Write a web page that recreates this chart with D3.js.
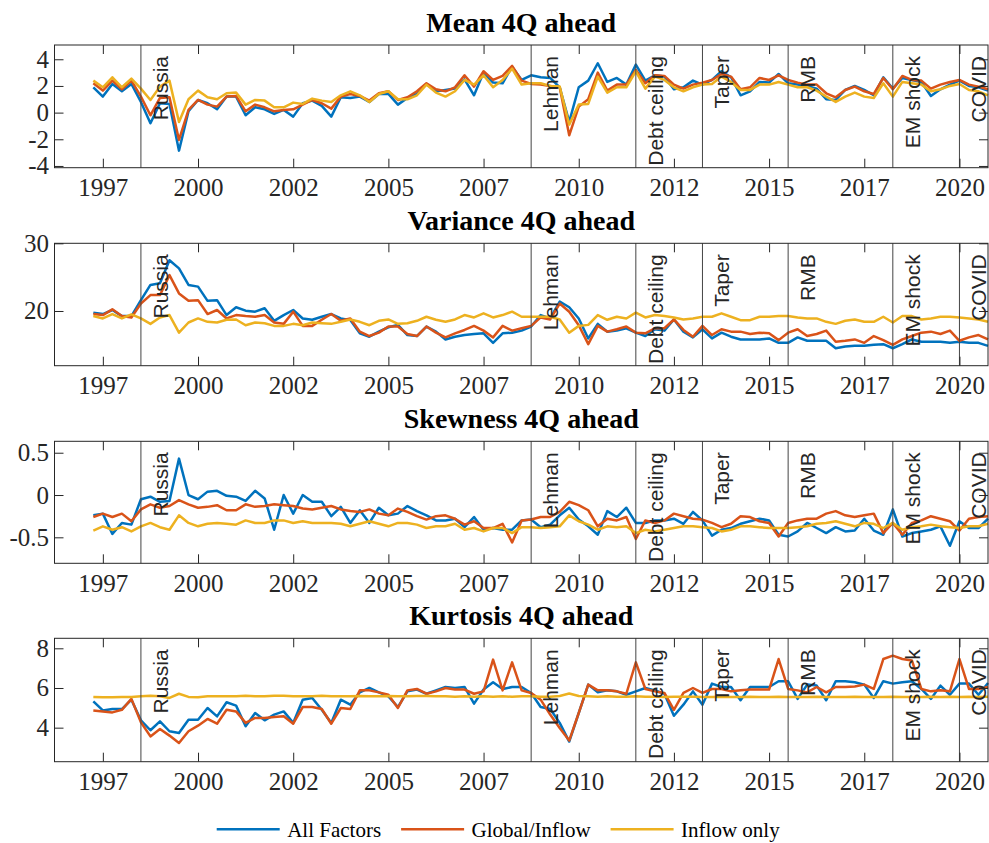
<!DOCTYPE html>
<html>
<head>
<meta charset="utf-8">
<script src="https://cdn.jsdelivr.net/npm/d3@7"></script>
<style>
  body { margin: 0; background: #fff; }
  svg { display: block; }
  .tick text { font-family: "Liberation Serif", "Times New Roman", serif; font-size: 25px; fill: #262626; }
  .tick line { stroke: #262626; }
  .title { font-family: "Liberation Serif", "Times New Roman", serif; font-size: 28px; font-weight: bold; fill: #000; }
  .event { font-family: "Liberation Sans", Arial, sans-serif; font-size: 21px; fill: #262626; }
  .legend { font-family: "Liberation Serif", "Times New Roman", serif; font-size: 21px; fill: #000; }
</style>
</head>
<body>
<svg id="chart" width="989" height="843"></svg>
<script>
// quarterly, 1997Q2 .. 2020Q4
const startYear = 1997.25;
const seriesNames = ['All Factors', 'Global/Inflow', 'Inflow only'];
const colors = ['#0072BD', '#D95319', '#EDB120'];

const events = ['Russia', 'Lehman', 'Debt ceiling', 'Taper', 'RMB', 'EM shock', 'COVID'];
const eventDates = [1998.5, 2008.75, 2011.5, 2013.25, 2015.5, 2018.25, 2020.0];

const xTicks = [1997.5, 2000, 2002.5, 2005, 2007.5, 2010, 2012.5, 2015, 2017.5, 2020];

const meanAll = [1.9, 1.2, 2.15, 1.6, 2.15, 0.8, -0.8, 0.7, 0.65, -2.85, 0.1, 0.95, 0.7, 0.25, 1.2, 1.2, -0.2, 0.4, 0.25, -0.1, 0.2, -0.3, 0.7, 0.9, 0.5,
  -0.3, 1.15, 1.1, 1.2, 0.8, 1.4, 1.4, 0.6, 1.1, 1.4, 2.15, 1.6, 1.7, 1.8, 2.5, 1.3, 3.0, 2.25, 2.2, 3.45, 2.45, 2.8, 2.65, 2.6, 1.9, -0.7, 1.9, 2.4, 3.7, 2.3, 2.6, 2.1, 3.6, 2.4, 2.8,
  2.7, 1.75, 1.9, 2.4, 2.1, 2.45, 3.1, 2.65, 1.3, 1.6, 2.3, 2.25, 2.9, 2.2, 2.1, 2.0, 1.8, 1.0, 0.95, 1.7, 2.0, 1.7, 1.3, 2.65, 1.8, 2.6, 2.45, 2.3, 1.25, 1.75, 2.1, 2.4, 2.0, 1.9, 1.65];
const meanGlobal = [2.2, 1.65, 2.4, 1.75, 2.4, 1.2, -0.2, 1.1, 1.15, -2.05, 0.2, 0.95, 0.6, 0.45, 1.2, 1.25, 0.1, 0.6, 0.4, 0.1, 0.2, 0.25, 0.6, 0.95, 0.7,
  0.3, 1.2, 1.4, 1.25, 0.9, 1.45, 1.6, 0.95, 1.15, 1.6, 2.2, 1.75, 1.6, 1.9, 2.8, 1.95, 3.1, 2.45, 2.75, 3.5, 2.4, 2.15, 2.1, 2.0, 1.9, -1.7, 0.45, 1.0, 3.0, 1.65, 2.1, 2.1, 3.2, 2.2, 2.8,
  2.75, 2.1, 1.8, 2.1, 2.25, 2.45, 2.9, 2.7, 1.75, 1.9, 2.6, 2.45, 2.8, 2.45, 2.25, 2.1, 2.1, 1.45, 1.15, 1.7, 1.95, 1.6, 1.4, 2.6, 1.75, 2.75, 2.45, 2.4, 1.8, 2.1, 2.3, 2.45, 2.1, 1.95, 1.75];
const meanInflow = [2.4, 1.9, 2.65, 1.9, 2.55, 1.8, 0.95, 1.95, 2.4, -0.7, 1.0, 1.65, 1.15, 1.0, 1.45, 1.5, 0.6, 0.95, 0.9, 0.4, 0.4, 0.75, 0.65, 1.05, 0.9,
  0.8, 1.3, 1.6, 1.3, 0.8, 1.4, 1.6, 1.0, 1.0, 1.3, 2.1, 1.5, 1.2, 1.6, 2.45, 2.1, 2.8, 1.9, 2.45, 3.3, 2.1, 2.2, 2.2, 2.0, 1.95, -0.9, 0.6, 0.65, 2.7, 1.5, 1.9, 1.9, 3.1, 1.8, 2.7,
  2.45, 1.9, 1.6, 1.9, 2.1, 2.15, 2.7, 2.3, 1.7, 1.7, 2.1, 2.1, 2.3, 2.1, 1.9, 1.9, 1.65, 1.2, 0.8, 1.2, 1.5, 1.2, 1.1, 2.2, 1.2, 2.3, 2.2, 2.1, 1.6, 1.75, 2.0, 2.15, 1.7, 1.6, 1.3];

const varAll = [19.75, 19.55, 20.15, 19.25, 19.25, 21.6, 23.85, 24.1, 27.5, 26.3, 23.85, 23.6, 21.5, 21.6, 19.4, 20.55, 20.05, 19.9, 20.4, 18.55, 19.4, 20.15, 18.9, 18.7, 19.15,
  19.55, 18.9, 18.65, 16.7, 16.2, 16.95, 17.6, 17.95, 16.45, 16.3, 17.7, 16.95, 15.8, 16.2, 16.45, 16.6, 16.7, 15.3, 16.7, 16.8, 17.1, 17.7, 19.4, 18.9, 21.4, 20.55, 18.9, 15.95, 18.1, 16.95, 17.1, 17.45, 16.8, 16.3, 17.3,
  17.1, 18.75, 16.95, 16.1, 17.3, 15.95, 16.8, 16.2, 15.8, 15.8, 15.8, 15.95, 15.3, 15.3, 16.1, 15.6, 15.6, 15.6, 14.5, 14.75, 14.85, 14.85, 15.0, 15.1, 14.5, 15.1, 15.8, 15.45, 15.45, 15.45, 15.3, 15.45, 15.3, 15.3, 14.85];
const varGlobal = [19.55, 19.4, 20.25, 19.25, 19.05, 21.1, 22.35, 22.35, 25.3, 22.6, 21.5, 21.6, 19.55, 20.15, 18.9, 19.4, 19.25, 19.15, 19.4, 18.3, 18.1, 19.9, 17.8, 17.8, 18.7,
  19.55, 18.55, 18.9, 16.95, 16.3, 16.8, 17.7, 17.7, 16.6, 16.3, 17.7, 16.8, 16.1, 16.7, 17.2, 17.8, 17.1, 16.1, 17.8, 17.1, 17.45, 17.8, 19.05, 18.75, 21.1, 19.9, 17.9, 15.1, 17.8, 16.95, 17.3, 17.7, 16.8, 16.7, 17.45,
  17.45, 18.75, 17.2, 16.2, 17.8, 16.45, 17.3, 16.95, 16.95, 16.6, 16.8, 16.7, 15.7, 16.8, 17.3, 16.3, 16.6, 17.1, 15.45, 15.6, 15.8, 15.3, 16.3, 15.7, 15.0, 15.8, 16.3, 16.8, 16.95, 16.6, 17.1, 15.6, 16.1, 16.45, 15.8];
const varInflow = [19.25, 18.9, 19.55, 18.9, 19.5, 18.9, 18.1, 19.05, 19.4, 16.8, 18.3, 18.9, 18.4, 18.3, 18.7, 18.75, 17.9, 18.3, 18.2, 17.8, 17.8, 18.1, 17.9, 18.3, 18.2,
  18.1, 18.4, 18.75, 18.4, 17.9, 18.55, 18.75, 18.1, 18.2, 18.55, 19.15, 18.7, 18.4, 18.75, 19.4, 19.05, 19.65, 19.05, 19.4, 19.9, 19.15, 19.15, 19.15, 19.15, 18.75, 16.8, 17.8, 17.95, 19.4, 18.7, 19.15, 18.9, 19.75, 19.05, 19.4,
  19.25, 19.05, 18.75, 18.9, 19.15, 19.15, 19.65, 19.15, 18.65, 18.65, 19.15, 19.15, 19.25, 19.25, 19.05, 18.9, 18.9, 18.4, 18.1, 18.55, 18.75, 18.4, 18.4, 19.15, 18.3, 19.25, 19.25, 18.75, 18.9, 19.15, 19.15, 19.05, 18.9, 18.75, 18.4];

const skewAll = [-0.24, -0.22, -0.46, -0.33, -0.35, -0.05, -0.02, -0.08, -0.07, 0.43, 0.0, -0.05, 0.04, 0.05, -0.01, -0.02, -0.07, 0.05, -0.04, -0.41, 0.0, -0.22, 0.0, -0.08, -0.08,
  -0.25, -0.14, -0.33, -0.18, -0.33, -0.15, -0.24, -0.22, -0.13, -0.19, -0.24, -0.30, -0.30, -0.28, -0.38, -0.26, -0.41, -0.39, -0.41, -0.41, -0.30, -0.29, -0.38, -0.35, -0.24, -0.15, -0.29, -0.37, -0.47, -0.19, -0.26, -0.15, -0.33, -0.33, -0.30,
  -0.30, -0.28, -0.34, -0.20, -0.30, -0.48, -0.41, -0.39, -0.34, -0.31, -0.28, -0.30, -0.47, -0.49, -0.43, -0.33, -0.39, -0.45, -0.38, -0.43, -0.42, -0.28, -0.42, -0.47, -0.17, -0.49, -0.45, -0.43, -0.41, -0.37, -0.60, -0.31, -0.39, -0.39, -0.28];
const skewGlobal = [-0.26, -0.22, -0.26, -0.22, -0.31, -0.17, -0.11, -0.15, -0.13, -0.06, -0.11, -0.15, -0.14, -0.12, -0.18, -0.18, -0.11, -0.14, -0.13, -0.11, -0.12, -0.13, -0.16, -0.17, -0.15,
  -0.13, -0.17, -0.19, -0.20, -0.17, -0.22, -0.24, -0.16, -0.20, -0.25, -0.29, -0.25, -0.24, -0.28, -0.35, -0.31, -0.39, -0.39, -0.34, -0.56, -0.30, -0.29, -0.26, -0.26, -0.20, -0.08, -0.12, -0.18, -0.37, -0.28, -0.30, -0.26, -0.52, -0.30, -0.33,
  -0.30, -0.22, -0.25, -0.28, -0.29, -0.33, -0.38, -0.34, -0.25, -0.26, -0.31, -0.33, -0.49, -0.33, -0.30, -0.28, -0.28, -0.22, -0.19, -0.24, -0.26, -0.24, -0.22, -0.45, -0.33, -0.47, -0.33, -0.30, -0.25, -0.28, -0.31, -0.42, -0.28, -0.26, -0.25];
const skewInflow = [-0.42, -0.37, -0.41, -0.38, -0.43, -0.37, -0.33, -0.38, -0.41, -0.24, -0.33, -0.37, -0.34, -0.33, -0.34, -0.35, -0.30, -0.33, -0.33, -0.30, -0.30, -0.33, -0.31, -0.33, -0.33,
  -0.33, -0.34, -0.37, -0.34, -0.31, -0.34, -0.37, -0.33, -0.33, -0.35, -0.39, -0.37, -0.37, -0.34, -0.41, -0.39, -0.43, -0.39, -0.39, -0.45, -0.38, -0.38, -0.39, -0.38, -0.37, -0.24, -0.31, -0.35, -0.41, -0.37, -0.38, -0.37, -0.45, -0.41, -0.43,
  -0.41, -0.39, -0.37, -0.37, -0.38, -0.39, -0.43, -0.41, -0.37, -0.37, -0.38, -0.39, -0.39, -0.39, -0.38, -0.37, -0.34, -0.33, -0.31, -0.34, -0.37, -0.33, -0.34, -0.39, -0.33, -0.41, -0.38, -0.37, -0.35, -0.37, -0.38, -0.39, -0.37, -0.37, -0.34];

const kurtAll = [5.33, 4.87, 4.94, 4.94, 5.41, 4.37, 3.87, 4.32, 3.82, 3.73, 4.4, 4.4, 4.99, 4.57, 5.28, 5.11, 4.07, 4.74, 4.37, 4.66, 4.82, 4.24, 5.41, 5.5, 4.9,
  4.24, 5.41, 5.16, 5.78, 6.0, 5.78, 5.58, 5.04, 5.83, 5.92, 5.71, 5.88, 6.05, 6.0, 6.05, 5.21, 5.92, 6.29, 5.95, 6.05, 6.05, 5.75, 5.04, 4.94, 4.24, 3.3, 4.74, 6.17, 5.78, 5.88, 5.83, 5.66, 5.83, 6.0, 5.88,
  5.71, 4.6, 5.16, 5.83, 5.16, 6.22, 6.05, 6.05, 5.38, 6.05, 6.05, 6.05, 6.34, 6.34, 5.45, 6.17, 6.12, 5.38, 6.34, 6.34, 6.29, 6.17, 5.5, 6.34, 6.22, 6.29, 6.34, 5.95, 5.45, 6.12, 5.66, 6.22, 6.22, 5.66, 6.25];
const kurtGlobal = [4.87, 4.82, 4.77, 4.9, 5.45, 4.27, 3.56, 3.93, 3.6, 3.23, 3.82, 4.1, 4.44, 4.2, 4.9, 4.82, 4.24, 4.49, 4.49, 4.54, 4.57, 4.2, 5.04, 5.04, 4.94,
  4.2, 4.99, 4.94, 5.88, 5.88, 5.78, 5.66, 4.99, 5.88, 5.95, 5.71, 5.83, 6.0, 5.92, 5.92, 5.71, 5.83, 7.43, 5.88, 7.29, 5.88, 5.75, 5.41, 4.66, 3.98, 3.35, 4.74, 6.17, 5.88, 5.88, 5.83, 5.71, 7.29, 5.95, 5.83,
  5.75, 4.9, 5.75, 6.0, 5.75, 5.95, 5.95, 5.83, 5.88, 5.92, 5.92, 5.92, 7.46, 5.95, 5.88, 5.78, 6.05, 5.78, 6.05, 6.05, 6.08, 6.17, 5.95, 7.46, 7.63, 7.46, 7.39, 5.95, 5.83, 5.88, 5.83, 7.46, 5.95, 5.95, 6.05];
const kurtInflow = [5.55, 5.53, 5.53, 5.55, 5.55, 5.58, 5.61, 5.58, 5.5, 5.71, 5.55, 5.53, 5.58, 5.58, 5.58, 5.58, 5.61, 5.58, 5.58, 5.61, 5.61, 5.58, 5.58, 5.58, 5.61,
  5.58, 5.58, 5.58, 5.6, 5.58, 5.58, 5.6, 5.58, 5.58, 5.6, 5.6, 5.58, 5.58, 5.56, 5.58, 5.56, 5.58, 5.56, 5.58, 5.56, 5.58, 5.58, 5.56, 5.56, 5.6, 5.72, 5.6, 5.58, 5.56, 5.58, 5.56, 5.56, 5.58, 5.56, 5.56,
  5.55, 5.56, 5.56, 5.56, 5.55, 5.55, 5.56, 5.55, 5.55, 5.56, 5.55, 5.55, 5.56, 5.55, 5.55, 5.55, 5.56, 5.55, 5.55, 5.55, 5.56, 5.55, 5.55, 5.55, 5.56, 5.55, 5.55, 5.55, 5.56, 5.55, 5.56, 5.55, 5.56, 5.55, 5.56];

const panels = [
  { title: 'Mean 4Q ahead', series: [meanAll, meanGlobal, meanInflow], domain: [-4.13, 5.07], ticks: [-4, -2, 0, 2, 4], top: 45, bottom: 167.7 },
  { title: 'Variance 4Q ahead', series: [varAll, varGlobal, varInflow], domain: [11.92, 30], ticks: [20, 30], top: 243.3, bottom: 365.7 },
  { title: 'Skewness 4Q ahead', series: [skewAll, skewGlobal, skewInflow], domain: [-0.807, 0.635], ticks: [-0.5, 0, 0.5], top: 441.3, bottom: 563.3 },
  { title: 'Kurtosis 4Q ahead', series: [kurtAll, kurtGlobal, kurtInflow], domain: [2.285, 8.504], ticks: [4, 6, 8], top: 638.3, bottom: 761.7 }
];

const left = 54.5, right = 988, tick = 9;
const svg = d3.select('#chart');

const x = d3.scaleLinear().domain([1996.23, 2020.75]).range([left, right]);
const date = i => startYear + 0.25 * i;

panels.forEach(p => {
  const y = d3.scaleLinear().domain(p.domain).range([p.bottom, p.top]);
  const g = svg.append('g');

  const line = d3.line()
    .x((d, i) => x(date(i)))
    .y(d => y(d));

  g.selectAll('path.series').data(p.series)
    .enter().append('path')
      .attr('class', 'series')
      .attr('d', line)
      .attr('fill', 'none')
      .attr('stroke', (d, i) => colors[i])
      .attr('stroke-width', 2.5)
      .attr('stroke-linejoin', 'round');

  g.selectAll('line.ev').data(eventDates)
    .enter().append('line')
      .attr('class', 'ev')
      .attr('x1', d => x(d)).attr('x2', d => x(d))
      .attr('y1', p.top).attr('y2', p.bottom)
      .attr('stroke', '#444')
      .attr('stroke-width', 1);

  g.selectAll('text.event').data(events)
    .enter().append('text')
      .attr('class', 'event')
      .attr('text-anchor', 'end')
      .attr('transform', (d, i) => `translate(${x(eventDates[i]) + 27}, ${p.top + 11}) rotate(-90)`)
      .text(d => d);

  const bottomAxis = g.append('g')
    .attr('transform', `translate(0, ${p.bottom})`)
    .call(d3.axisBottom(x).tickValues(xTicks).tickFormat(d => Math.floor(d))
      .tickSizeInner(-tick).tickSizeOuter(0).tickPadding(11));
  g.append('g')
    .attr('transform', `translate(0, ${p.top})`)
    .call(d3.axisTop(x).tickValues(xTicks).tickFormat('').tickSizeInner(-tick).tickSizeOuter(0));
  g.append('g')
    .attr('transform', `translate(${left}, 0)`)
    .call(d3.axisLeft(y).tickValues(p.ticks).tickFormat(d => String(d))
      .tickSizeInner(-tick).tickSizeOuter(0).tickPadding(5.5));
  g.append('g')
    .attr('transform', `translate(${right}, 0)`)
    .call(d3.axisRight(y).tickValues(p.ticks).tickFormat('').tickSizeInner(-tick).tickSizeOuter(0));
  g.selectAll('.domain').remove();

  g.append('rect')
    .attr('x', left).attr('y', p.top)
    .attr('width', right - left).attr('height', p.bottom - p.top)
    .attr('fill', 'none')
    .attr('stroke', '#262626')
    .attr('stroke-width', 1);

  g.append('text')
    .attr('class', 'title')
    .attr('x', (left + right) / 2)
    .attr('y', p.top - 13.5)
    .attr('text-anchor', 'middle')
    .text(p.title);
});

// legend along the bottom
const legend = svg.append('g').attr('transform', 'translate(0, 829.3)');
let lx = 216.7;
seriesNames.forEach((name, i) => {
  legend.append('line')
    .attr('x1', lx).attr('x2', lx + 63)
    .attr('y1', 0).attr('y2', 0)
    .attr('stroke', colors[i])
    .attr('stroke-width', 2.5);
  const t = legend.append('text')
    .attr('class', 'legend')
    .attr('x', lx + 70.5)
    .attr('y', 7.3)
    .text(name);
  lx += 70.5 + t.node().getComputedTextLength() + 20;
});
</script>
</body>
</html>
